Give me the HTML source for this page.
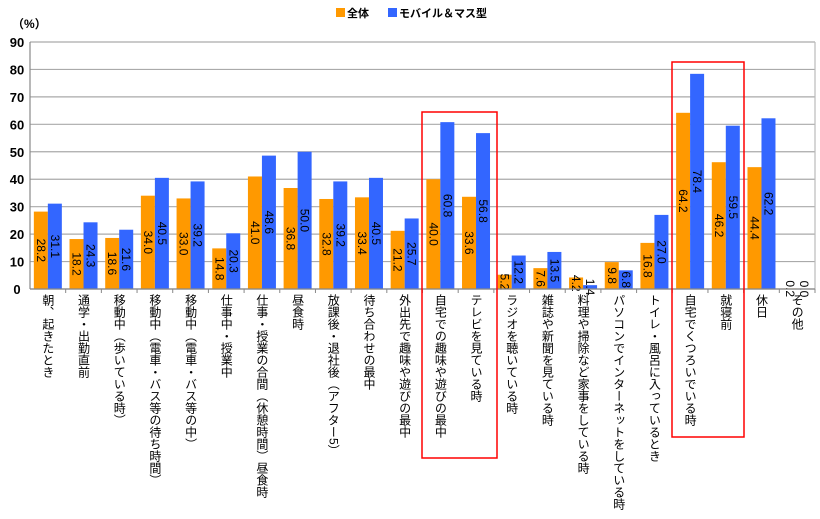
<!DOCTYPE html>
<html><head><meta charset="utf-8"><style>
body{margin:0;background:#fff;width:820px;height:519px;overflow:hidden;font-family:"Liberation Sans","Noto Sans CJK JP",sans-serif;}
#wrap{position:relative;width:820px;height:519px;}
.cat{position:absolute;top:294px;writing-mode:vertical-rl;font-size:12px;line-height:13px;color:#000;white-space:nowrap;}
</style></head><body>
<div id="wrap">
<svg id="svg" width="820" height="519" style="position:absolute;left:0;top:0"></svg>
</div>
<script>
const categories=["朝、起きたとき","通学・出勤直前","移動中（歩いている時）","移動中（電車・バス等の待ち時間）","移動中（電車・バス等の中）","仕事中・授業中","仕事・授業の合間（休憩時間）昼食時","昼食時","放課後・退社後（アフター5）","待ち合わせの最中","外出先で趣味や遊びの最中","自宅での趣味や遊びの最中","テレビを見ている時","ラジオを聴いている時","雑誌や新聞を見ている時","料理や掃除など家事をしている時","パソコンでインターネットをしている時","トイレ・風呂に入っているとき","自宅でくつろいでいる時","就寝前","休日","その他"];
const seriesAll=[28.2,18.2,18.6,34.0,33.0,14.8,41.0,36.8,32.8,33.4,21.2,40.0,33.6,5.2,7.6,4.2,9.8,16.8,64.2,46.2,44.4,0.2];
const seriesMobile=[31.1,24.3,21.6,40.5,39.2,20.3,48.6,50.0,39.2,40.5,25.7,60.8,56.8,12.2,13.5,1.4,6.8,27.0,78.4,59.5,62.2,0.0];
const yTicks=[0,10,20,30,40,50,60,70,80,90];
const seriesNames=["全体","モバイル＆マス型"];

const NS="http://www.w3.org/2000/svg";
const svg=document.getElementById('svg');
const wrap=document.getElementById('wrap');
const L=30,R=815,T=42,B=289,YMAX=90;
const band=(R-L)/categories.length;
const y=v=>B-(v/YMAX)*(B-T);
const xc=i=>L+band*(i+0.5);
function mk(tag,attrs){const e=document.createElementNS(NS,tag);for(const k in attrs)e.setAttribute(k,attrs[k]);svg.appendChild(e);return e;}

yTicks.forEach(t=>{
  const g=mk('line',{x1:L,x2:R,y1:y(t),y2:y(t),stroke:'#aaa','stroke-width':1.2});
  
  
  const tx=mk('text',{x:17,y:y(t)+5,'font-size':13,'font-weight':'bold','text-anchor':'middle',fill:'#000'});
  tx.textContent=t;
  
  
});
const ax=mk('line',{x1:L,x2:L,y1:T,y2:B,stroke:'#888','stroke-width':1.2});


const ax2=mk('line',{x1:R,x2:R,y1:T,y2:B,stroke:'#bbb','stroke-width':1.2});


const unit=mk('text',{x:12,y:28,'font-size':12,'font-weight':'bold',fill:'#000'});
unit.textContent='（%）';



const bw=14;
function bar(v,x,color,name){
  const r=mk('rect',{x:x,y:y(v),width:bw,height:B-y(v),fill:color});
  
  
  const cy=(y(v)+B)/2;
  const t=mk('text',{x:0,y:0,'font-size':12,'text-anchor':'middle',fill:'#000',transform:`translate(${x+bw/2-4},${cy}) rotate(90)`});
  t.textContent=v.toFixed(1);
  
  
}
categories.forEach((c,i)=>{
  const cx=xc(i);
  bar(seriesAll[i],cx-bw,'#ff9900','bar-all');
  bar(seriesMobile[i],cx,'#3366ff','bar-mobile');
  const tk=mk('line',{x1:L+band*(i+1),x2:L+band*(i+1),y1:B,y2:B+4,stroke:'#888'});
  
  
  const d=document.createElement('div');
  d.className='cat';d.textContent=c;
  d.style.left=(cx-7)+'px';
  
  
  wrap.appendChild(d);
});
const base=mk('line',{x1:L,x2:R,y1:B,y2:B,stroke:'#888','stroke-width':1.2});



const hb1=mk('rect',{x:422,y:112,width:75,height:346,fill:'none',stroke:'#ff0000','stroke-width':1.5});


const hb2=mk('rect',{x:672,y:62,width:72,height:375,fill:'none',stroke:'#ff0000','stroke-width':1.5});



const colors=['#ff9900','#3366ff'];const lx=[336,388];
seriesNames.forEach((n,i)=>{
  const s=mk('rect',{x:lx[i],y:8,width:9,height:9,fill:colors[i]});
  
  
  const t=mk('text',{x:lx[i]+11,y:17,'font-size':11,'font-weight':'bold',fill:'#000'});
  t.textContent=n;
  
  
});
</script>
</body></html>
